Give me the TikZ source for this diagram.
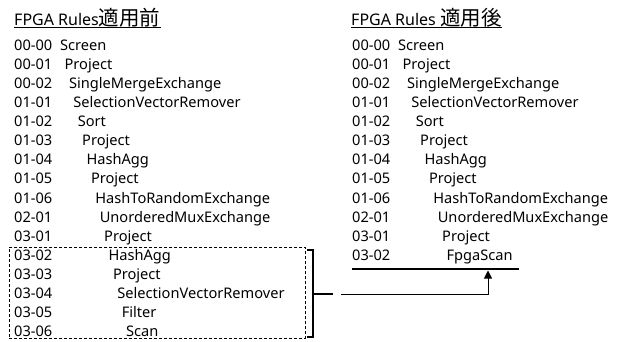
\documentclass[tikz,border=0pt]{standalone}
\usepackage{fontspec}
\setmainfont{Noto Sans}
\newfontfamily\cjk{Noto Sans CJK JP}
\usetikzlibrary{arrows.meta}
\begin{document}
\begin{tikzpicture}[x=1pt,y=1pt,
  txt/.style={anchor=base west,inner sep=0pt,font=\fontsize{14.6}{14.6}\selectfont},
  ttl/.style={anchor=base west,inner sep=0pt,font=\fontsize{16}{16}\selectfont},
  thickbar/.style={line width=2.8pt},
  thinline/.style={line width=0.9pt}]
\useasboundingbox (0,0) rectangle (632,-341);
% titles
\node[ttl] (tl) at (14,-25.7) {FPGA Rules{\cjk\fontsize{20.5}{20.5}\selectfont 適用前}};
\node[ttl] (tr) at (351,-25.7) {FPGA Rules {\cjk\fontsize{20.5}{20.5}\selectfont 適用後}};
\draw[thinline] ([yshift=-2pt]tl.base west) -- ([yshift=-2pt]tl.base east);
\draw[thinline] ([yshift=-2pt]tr.base west) -- ([yshift=-2pt]tr.base east);
% left list
\foreach \n/\t [count=\i from 0] in {00-00/Screen,00-01/Project,00-02/SingleMergeExchange,01-01/SelectionVectorRemover,01-02/Sort,01-03/Project,01-04/HashAgg,01-05/Project,01-06/HashToRandomExchange,02-01/UnorderedMuxExchange,03-01/Project,03-02/HashAgg,03-03/Project,03-04/SelectionVectorRemover,03-05/Filter,03-06/Scan}{
  \node[txt] (ln\i) at (14,-50.5-19.07*\i) {\n};
  \node[txt] (lt\i) at (60+4.4*\i,-50.5-19.07*\i) {\t};
}
% right list
\foreach \n/\t [count=\i from 0] in {00-00/Screen,00-01/Project,00-02/SingleMergeExchange,01-01/SelectionVectorRemover,01-02/Sort,01-03/Project,01-04/HashAgg,01-05/Project,01-06/HashToRandomExchange,02-01/UnorderedMuxExchange,03-01/Project,03-02/FpgaScan}{
  \node[txt] (rn\i) at (352,-50.5-19.07*\i) {\n};
  \node[txt] (rt\i) at (398+4.4*\i,-50.5-19.07*\i) {\t};
}
% dashed box around replaced subtree
\node[draw,dashed,line width=0.8pt,dash pattern=on 3pt off 2pt,inner sep=0pt,
  minimum width=296pt,minimum height=91pt,anchor=north west] (box) at (9,-247) {};
% bracket
\draw[thickbar] (307,-250) -- (313,-250) -- (313,-337) -- (307,-337);
\draw[thickbar] (313,-294) -- (333,-294) coordinate (bt);
% underline of result
\draw[thickbar] (352,-269) -- (519,-269);
\coordinate (tgt) at (488,-270.5);
\coordinate (src) at (341,-294);
\draw[thinline,-{Triangle[length=8pt,width=8pt]}] (src) -| (tgt);
\end{tikzpicture}
\end{document}
